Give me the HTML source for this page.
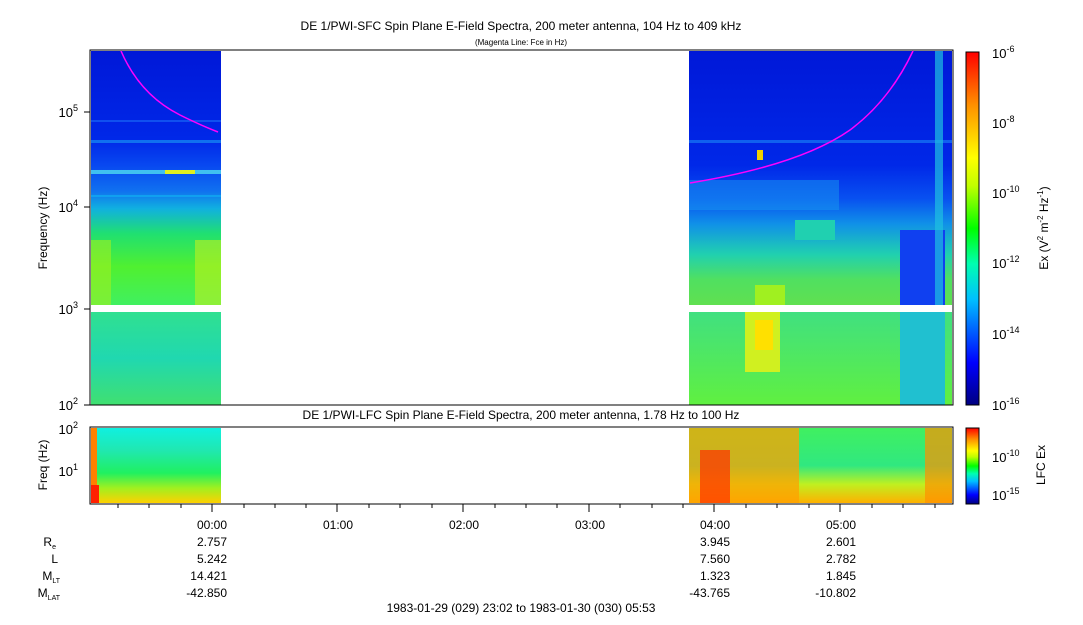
<!DOCTYPE html>
<html><head><meta charset="utf-8"><style>
body{margin:0;background:#fff;}
svg text{font-family:"Liberation Sans",sans-serif;fill:#000;}
</style></head><body>
<svg width="1083" height="620" viewBox="0 0 1083 620" xmlns="http://www.w3.org/2000/svg">
<defs>
<linearGradient id="lt" x1="0" y1="0" x2="0" y2="1">
<stop offset="0" stop-color="#0018d8"/><stop offset="0.35" stop-color="#0028e8"/>
<stop offset="0.45" stop-color="#0848f0"/><stop offset="0.55" stop-color="#1070f0"/>
<stop offset="0.62" stop-color="#10b0e0"/><stop offset="0.72" stop-color="#20e070"/>
<stop offset="0.85" stop-color="#50f030"/><stop offset="1" stop-color="#40f060"/>
</linearGradient>
<linearGradient id="ll" x1="0" y1="0" x2="0" y2="1">
<stop offset="0" stop-color="#30e090"/><stop offset="0.5" stop-color="#20d8b0"/><stop offset="1" stop-color="#40e070"/>
</linearGradient>
<linearGradient id="rt" x1="0" y1="0" x2="0" y2="1">
<stop offset="0" stop-color="#0018d8"/><stop offset="0.45" stop-color="#0028e8"/>
<stop offset="0.58" stop-color="#0850f0"/><stop offset="0.68" stop-color="#1090e8"/>
<stop offset="0.8" stop-color="#20d0b0"/><stop offset="0.9" stop-color="#50e060"/><stop offset="1" stop-color="#60e050"/>
</linearGradient>
<linearGradient id="rl" x1="0" y1="0" x2="0" y2="1">
<stop offset="0" stop-color="#40e080"/><stop offset="0.5" stop-color="#50e860"/><stop offset="1" stop-color="#60f040"/>
</linearGradient>
<linearGradient id="bl" x1="0" y1="0" x2="0" y2="1">
<stop offset="0" stop-color="#10f0e0"/><stop offset="0.3" stop-color="#20e8b0"/><stop offset="0.6" stop-color="#20f060"/>
<stop offset="0.8" stop-color="#a0f020"/><stop offset="1" stop-color="#ffd000"/>
</linearGradient>
<linearGradient id="br" x1="0" y1="0" x2="0" y2="1">
<stop offset="0" stop-color="#40f060"/><stop offset="0.5" stop-color="#30e880"/><stop offset="0.75" stop-color="#c0f020"/><stop offset="1" stop-color="#ffb000"/>
</linearGradient>
<linearGradient id="cb" x1="0" y1="1" x2="0" y2="0">
<stop offset="0" stop-color="#000080"/><stop offset="0.12" stop-color="#0000ff"/><stop offset="0.3" stop-color="#00c0ff"/>
<stop offset="0.4" stop-color="#00ffb0"/><stop offset="0.5" stop-color="#00ff00"/><stop offset="0.62" stop-color="#c0ff00"/>
<stop offset="0.7" stop-color="#ffff00"/><stop offset="0.85" stop-color="#ff9000"/><stop offset="1" stop-color="#ff0000"/>
</linearGradient>
</defs>
<text x="521" y="30" font-size="12" text-anchor="middle">DE 1/PWI-SFC  Spin Plane E-Field Spectra, 200 meter antenna, 104 Hz to 409 kHz</text>
<text x="521" y="45" font-size="8" text-anchor="middle">(Magenta Line: Fce in Hz)</text>
<rect x="91" y="51" width="130" height="254" fill="url(#lt)"/>
<rect x="91" y="312" width="130" height="93" fill="url(#ll)"/>
<rect x="91" y="170" width="130" height="4" fill="#40c0f0"/>
<rect x="165" y="170" width="30" height="4" fill="#e0f020"/>
<rect x="91" y="140" width="130" height="3" fill="#1070f0"/>
<rect x="91" y="120" width="130" height="2" fill="#1050f0"/>
<rect x="91" y="195" width="130" height="2" fill="#10a0f0"/>
<rect x="91" y="240" width="20" height="65" fill="#a0f020" opacity="0.6"/>
<rect x="195" y="240" width="26" height="65" fill="#c0f020" opacity="0.6"/>
<rect x="689" y="51" width="263" height="254" fill="url(#rt)"/>
<rect x="689" y="312" width="263" height="93" fill="url(#rl)"/>
<rect x="689" y="180" width="150" height="30" fill="#1898f0" opacity="0.5"/>
<rect x="689" y="140" width="263" height="3" fill="#1060f0"/>
<rect x="795" y="220" width="40" height="20" fill="#20d0b0"/>
<rect x="755" y="285" width="30" height="20" fill="#a0f020"/>
<rect x="745" y="312" width="35" height="60" fill="#d0f020"/>
<rect x="755" y="320" width="18" height="30" fill="#ffe000"/>
<rect x="900" y="230" width="45" height="75" fill="#1040f0"/>
<rect x="900" y="312" width="45" height="93" fill="#20c0d0"/>
<rect x="935" y="51" width="8" height="254" fill="#20c0e0" opacity="0.7"/>
<rect x="757" y="150" width="6" height="10" fill="#f0d000"/>
<path d="M121 51 Q140 95 180 115 Q200 125 218 132" stroke="#ff00ff" stroke-width="1.5" fill="none"/>
<path d="M690 183 Q800 165 850 130 Q890 100 913 51" stroke="#ff00ff" stroke-width="1.5" fill="none"/>
<rect x="90" y="50" width="863" height="355" fill="none" stroke="#000"/>
<g font-size="13" text-anchor="end">
<text x="78" y="117">10<tspan font-size="9" dy="-6">5</tspan></text>
<text x="78" y="212">10<tspan font-size="9" dy="-6">4</tspan></text>
<text x="78" y="314">10<tspan font-size="9" dy="-6">3</tspan></text>
<text x="78" y="410">10<tspan font-size="9" dy="-6">2</tspan></text>
</g>
<g stroke="#000"><line x1="84" y1="112" x2="90" y2="112"/><line x1="84" y1="207" x2="90" y2="207"/><line x1="84" y1="309" x2="90" y2="309"/><line x1="84" y1="405" x2="90" y2="405"/></g>
<text transform="translate(47 228) rotate(-90)" font-size="12" text-anchor="middle">Frequency (Hz)</text>
<rect x="966" y="52" width="13" height="353" fill="url(#cb)" stroke="#000"/>
<g font-size="13">
<text x="992" y="58">10<tspan font-size="9" dy="-6">-6</tspan></text>
<text x="992" y="128">10<tspan font-size="9" dy="-6">-8</tspan></text>
<text x="992" y="198">10<tspan font-size="9" dy="-6">-10</tspan></text>
<text x="992" y="268">10<tspan font-size="9" dy="-6">-12</tspan></text>
<text x="992" y="339">10<tspan font-size="9" dy="-6">-14</tspan></text>
<text x="992" y="410">10<tspan font-size="9" dy="-6">-16</tspan></text>
</g>
<text transform="translate(1048 228) rotate(-90)" font-size="12" text-anchor="middle">Ex (V<tspan font-size="8" dy="-5">2</tspan><tspan dy="5"> m</tspan><tspan font-size="8" dy="-5">-2</tspan><tspan dy="5"> Hz</tspan><tspan font-size="8" dy="-5">-1</tspan><tspan dy="5">)</tspan></text>
<text x="521" y="419" font-size="12" text-anchor="middle">DE 1/PWI-LFC  Spin Plane E-Field Spectra, 200 meter antenna, 1.78 Hz to 100 Hz</text>
<rect x="91" y="428" width="130" height="75" fill="url(#bl)"/>
<rect x="91" y="428" width="6" height="75" fill="#ff8000"/>
<rect x="91" y="485" width="8" height="18" fill="#ff2000"/>
<rect x="689" y="428" width="263" height="75" fill="url(#br)"/>
<rect x="689" y="428" width="110" height="75" fill="#ffa000" opacity="0.75"/>
<rect x="700" y="450" width="30" height="53" fill="#ff3000" opacity="0.7"/>
<rect x="925" y="428" width="27" height="75" fill="#ff9000" opacity="0.7"/>
<rect x="90" y="427" width="863" height="77" fill="none" stroke="#000"/>
<g font-size="13" text-anchor="end">
<text x="78" y="434">10<tspan font-size="9" dy="-6">2</tspan></text>
<text x="78" y="476">10<tspan font-size="9" dy="-6">1</tspan></text>
</g>
<text transform="translate(47 465) rotate(-90)" font-size="12" text-anchor="middle">Freq (Hz)</text>
<rect x="966" y="428" width="13" height="76" fill="url(#cb)" stroke="#000"/>
<g font-size="13">
<text x="992" y="462">10<tspan font-size="9" dy="-6">-10</tspan></text>
<text x="992" y="500">10<tspan font-size="9" dy="-6">-15</tspan></text>
</g>
<text transform="translate(1045 465) rotate(-90)" font-size="12" text-anchor="middle">LFC Ex</text>
<g stroke="#000">
<line x1="212" y1="504" x2="212" y2="512"/><line x1="337" y1="504" x2="337" y2="512"/><line x1="463" y1="504" x2="463" y2="512"/>
<line x1="589" y1="504" x2="589" y2="512"/><line x1="714" y1="504" x2="714" y2="512"/><line x1="840" y1="504" x2="840" y2="512"/>
<line x1="118" y1="504" x2="118" y2="508"/><line x1="149" y1="504" x2="149" y2="508"/><line x1="181" y1="504" x2="181" y2="508"/>
<line x1="244" y1="504" x2="244" y2="508"/><line x1="275" y1="504" x2="275" y2="508"/><line x1="306" y1="504" x2="306" y2="508"/>
<line x1="369" y1="504" x2="369" y2="508"/><line x1="400" y1="504" x2="400" y2="508"/><line x1="432" y1="504" x2="432" y2="508"/>
<line x1="495" y1="504" x2="495" y2="508"/><line x1="526" y1="504" x2="526" y2="508"/><line x1="557" y1="504" x2="557" y2="508"/>
<line x1="620" y1="504" x2="620" y2="508"/><line x1="652" y1="504" x2="652" y2="508"/><line x1="683" y1="504" x2="683" y2="508"/>
<line x1="746" y1="504" x2="746" y2="508"/><line x1="777" y1="504" x2="777" y2="508"/><line x1="809" y1="504" x2="809" y2="508"/>
<line x1="872" y1="504" x2="872" y2="508"/><line x1="903" y1="504" x2="903" y2="508"/><line x1="935" y1="504" x2="935" y2="508"/>
</g>
<g font-size="12" text-anchor="end">
<text x="227" y="529">00:00</text><text x="353" y="529">01:00</text><text x="479" y="529">02:00</text>
<text x="605" y="529">03:00</text><text x="730" y="529">04:00</text><text x="856" y="529">05:00</text>
<text x="227" y="546">2.757</text><text x="227" y="563">5.242</text><text x="227" y="580">14.421</text><text x="227" y="597">-42.850</text>
<text x="730" y="546">3.945</text><text x="730" y="563">7.560</text><text x="730" y="580">1.323</text><text x="730" y="597">-43.765</text>
<text x="856" y="546">2.601</text><text x="856" y="563">2.782</text><text x="856" y="580">1.845</text><text x="856" y="597">-10.802</text>
<text x="56" y="546">R<tspan font-size="7" dy="3">e</tspan></text>
<text x="58" y="563">L</text>
<text x="60" y="580">M<tspan font-size="7" dy="3">LT</tspan></text>
<text x="60" y="597">M<tspan font-size="7" dy="3">LAT</tspan></text>
</g>
<text x="521" y="612" font-size="12" text-anchor="middle">1983-01-29 (029) 23:02 to 1983-01-30 (030) 05:53</text>
</svg>
</body></html>
